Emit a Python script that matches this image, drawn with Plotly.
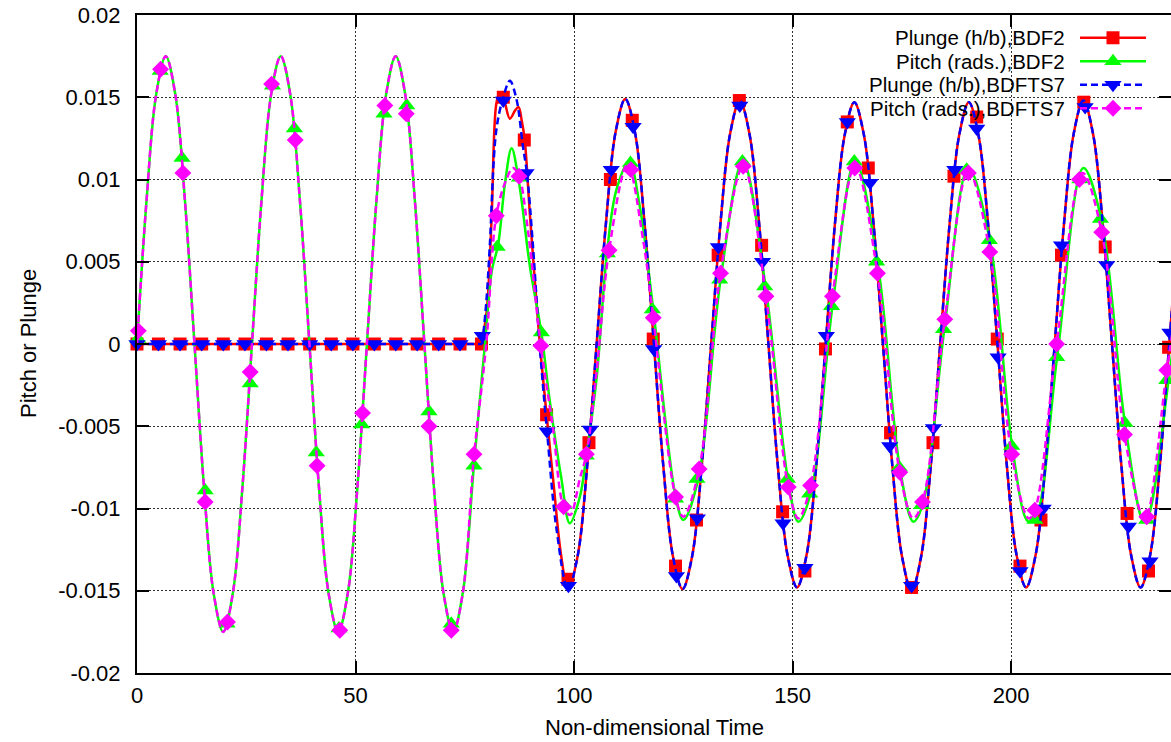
import plotly.graph_objects as go

# ---------------- data ----------------
# Plunge (h/b), BDF2 : line (flat at zero until the release, then oscillating)
t_plunge_bdf2 = [0, 78.8, 80.0, 81.1, 82.2, 83.0, 84.0, 85.3, 86.5, 87.3, 88.0, 88.7, 89.9, 92.1, 93.7,
                 95.3, 97.0, 98.6, 100.8, 103.0, 105.15, 107.3, 109.5, 111.7, 113.9, 116.1, 118.25,
                 120.4, 122.6, 124.8, 127.0, 129.2, 131.35, 133.5, 135.7, 137.9, 140.1, 142.3, 144.45,
                 146.6, 148.8, 151.0, 153.2, 155.4, 157.55, 159.7, 161.9, 164.1, 166.3, 168.5, 170.65,
                 172.8, 175.0, 177.2, 179.4, 181.6, 183.75, 185.9, 188.1, 190.3, 192.5, 194.7, 196.85,
                 199.0, 201.2, 203.4, 205.6, 207.8, 209.95, 212.1, 214.3, 216.5, 218.7, 220.9, 223.05,
                 225.2, 227.4, 229.6, 231.8, 234.0, 236.15, 238.3]
v_plunge_bdf2 = [0, 0, 0.0020, 0.0075, 0.0146, 0.0153, 0.0148, 0.0137, 0.0142, 0.0144, 0.0136, 0.0124,
                 0.0078, 0.0002, -0.0043, -0.0085, -0.0128, -0.0149, -0.0129, -0.0074, 0.0, 0.0074,
                 0.0129, 0.0149, 0.0129, 0.0074, 0.0, -0.0074, -0.0129, -0.0149, -0.0129, -0.0074, 0.0,
                 0.0074, 0.0128, 0.0148, 0.0128, 0.0074, 0.0, -0.0074, -0.0128, -0.0148, -0.0128,
                 -0.0074, 0.0, 0.0074, 0.0127, 0.0147, 0.0127, 0.0073, 0.0, -0.0074, -0.0129, -0.0150,
                 -0.0129, -0.0074, 0.0, 0.0073, 0.0127, 0.0147, 0.0127, 0.0073, 0.0, -0.0074, -0.0128,
                 -0.0148, -0.0128, -0.0074, 0.0, 0.0074, 0.0128, 0.0148, 0.0128, 0.0074, 0.0, -0.0074,
                 -0.0128, -0.0148, -0.0128, -0.0074, 0.0, 0.0074]

# Plunge (h/b), BDFTS7 : line
t_plunge_ts7 = [0, 79.0, 79.9, 80.7, 82.2, 83.8, 85.3, 86.8, 88.3, 89.2, 90.6, 92.1, 93.8, 96.0, 98.6,
                100.8, 103.0, 105.15, 107.3, 109.5, 111.7, 113.9, 116.1, 118.25, 120.4, 122.6, 124.8,
                127.0, 129.2, 131.35, 133.5, 135.7, 137.9, 140.1, 142.3, 144.45, 146.6, 148.8, 151.0,
                153.2, 155.4, 157.55, 159.7, 161.9, 164.1, 166.3, 168.5, 170.65, 172.8, 175.0, 177.2,
                179.4, 181.6, 183.75, 185.9, 188.1, 190.3, 192.5, 194.7, 196.85, 199.0, 201.2, 203.4,
                205.6, 207.8, 209.95, 212.1, 214.3, 216.5, 218.7, 220.9, 223.05, 225.2, 227.4, 229.6,
                231.8, 234.0, 236.15, 238.3]
v_plunge_ts7 = [0, 0, 0.0025, 0.0059, 0.0130, 0.0150, 0.0160, 0.0149, 0.0120, 0.0104, 0.0059, 0.0,
                -0.0053, -0.0113, -0.0149, -0.0129, -0.0074, 0.0, 0.0074, 0.0129, 0.0149, 0.0129,
                0.0074, 0.0, -0.0074, -0.0129, -0.0149, -0.0129, -0.0074, 0.0, 0.0074, 0.0128, 0.0148,
                0.0128, 0.0074, 0.0, -0.0074, -0.0128, -0.0148, -0.0128, -0.0074, 0.0, 0.0074, 0.0127,
                0.0147, 0.0127, 0.0073, 0.0, -0.0074, -0.0129, -0.0150, -0.0129, -0.0074, 0.0, 0.0073,
                0.0127, 0.0147, 0.0127, 0.0073, 0.0, -0.0074, -0.0128, -0.0148, -0.0128, -0.0074, 0.0,
                0.0074, 0.0128, 0.0148, 0.0128, 0.0074, 0.0, -0.0074, -0.0128, -0.0148, -0.0128,
                -0.0074, 0.0, 0.0074]

# Pitch (rads.), BDF2 : line
t_pitch_bdf2 = [0, 2.19, 4.38, 6.58, 8.77, 10.96, 13.15, 15.34, 17.53, 19.73, 21.92, 24.11, 26.3,
                28.49, 30.68, 32.88, 35.07, 37.26, 39.45, 41.64, 43.83, 46.03, 48.22, 50.41, 52.6,
                54.79, 56.98, 59.18, 61.37, 63.56, 65.75, 67.94, 70.13, 72.33, 74.52, 77.1, 79.6,
                81.2, 82.6, 84.2, 85.7, 87.4, 89.9, 92.5, 94.4, 97.1, 99.0, 101.3, 102.8, 105.1,
                107.5, 109.7, 112.6, 115.0, 118.1, 123.3, 125.0, 128.4, 133.5, 138.6, 143.8, 148.9,
                151.3, 154.1, 159.1, 164.3, 169.4, 174.5, 177.6, 179.7, 184.7, 190.2, 195.1, 200.2,
                203.9, 205.5, 210.5, 216.5, 220.6, 226.0, 230.3, 231.2, 236.0, 238.5]
v_pitch_bdf2 = [0, 0.00875, 0.01516, 0.0175, 0.01516, 0.00875, 0, -0.00875, -0.01516, -0.0175,
                -0.01516, -0.00875, 0, 0.00875, 0.01516, 0.0175, 0.01516, 0.00875, 0, -0.00875,
                -0.01516, -0.0175, -0.01516, -0.00875, 0, 0.00875, 0.01516, 0.0175, 0.01516, 0.00875,
                0, -0.00875, -0.01516, -0.0175, -0.01516, -0.0073, 0.0, 0.0045, 0.0060, 0.0098, 0.0119,
                0.0098, 0.0047, 0.0007, -0.0034, -0.0082, -0.0109, -0.0093, -0.0068, -0.0022, 0.0055,
                0.0094, 0.0111, 0.0084, 0.0021, -0.0094, -0.0107, -0.0082, 0.0039, 0.0111, 0.0035,
                -0.0082, -0.0108, -0.0091, 0.0023, 0.0111, 0.0050, -0.0075, -0.0108, -0.0098, 0.0009,
                0.0107, 0.0063, -0.0062, -0.0108, -0.0106, -0.0008, 0.0107, 0.0076, -0.0048, -0.0108,
                -0.0106, -0.0022, 0.0030]

# Pitch (rads.), BDFTS7 : line
t_pitch_ts7 = [0, 2.19, 4.38, 6.58, 8.77, 10.96, 13.15, 15.34, 17.53, 19.73, 21.92, 24.11, 26.3,
               28.49, 30.68, 32.88, 35.07, 37.26, 39.45, 41.64, 43.83, 46.03, 48.22, 50.41, 52.6,
               54.79, 56.98, 59.18, 61.37, 63.56, 65.75, 67.94, 70.13, 72.33, 74.52, 77.1, 79.9,
               82.2, 84.5, 86.0, 87.4, 89.1, 92.4, 95.2, 97.6, 99.1, 101.3, 102.8, 105.1, 108.0,
               112.2, 115.8, 118.1, 123.2, 125.0, 128.6, 133.5, 138.7, 143.9, 149.0, 151.3, 154.1,
               159.1, 164.3, 169.4, 174.5, 177.6, 179.7, 184.8, 190.2, 195.1, 200.1, 204.0, 205.4,
               210.4, 216.3, 220.7, 225.9, 230.3, 231.0, 235.6, 238.5]
v_pitch_ts7 = [0, 0.00875, 0.01516, 0.0175, 0.01516, 0.00875, 0, -0.00875, -0.01516, -0.0175,
               -0.01516, -0.00875, 0, 0.00875, 0.01516, 0.0175, 0.01516, 0.00875, 0, -0.00875,
               -0.01516, -0.0175, -0.01516, -0.00875, 0, 0.00875, 0.01516, 0.0175, 0.01516, 0.00875,
               0, -0.00875, -0.01516, -0.0175, -0.01516, -0.0068, 0.0, 0.0078, 0.0100, 0.0107,
               0.0102, 0.0076, -0.0001, -0.0052, -0.0099, -0.0104, -0.0082, -0.0067, -0.0018, 0.0057,
               0.0109, 0.0063, 0.0016, -0.0093, -0.0105, -0.0076, 0.0043, 0.0108, 0.0029, -0.0087,
               -0.0106, -0.0086, 0.0029, 0.0108, 0.0043, -0.0078, -0.0106, -0.0096, 0.0015, 0.0105,
               0.0056, -0.0067, -0.0106, -0.0101, 0.0, 0.0104, 0.0068, -0.0055, -0.0106, -0.0105,
               -0.0016, 0.0035]

# point symbols (every n-th sample)
tm_plunge_bdf2 = [0, 4.9, 9.85, 14.8, 19.75, 24.7, 29.6, 34.55, 39.5, 44.45, 49.4, 54.3, 59.2, 64.1,
                  69.0, 73.9, 78.8, 83.8, 88.6, 93.7, 98.6, 103.4, 108.3, 113.3, 118.1, 123.2, 128.0,
                  132.95, 137.8, 142.9, 147.7, 152.8, 157.5, 162.5, 167.3, 172.4, 177.2, 182.1, 186.9,
                  192.1, 196.8, 202.0, 206.8, 211.5, 216.6, 221.5, 226.5, 231.4, 236.0]
vm_plunge_bdf2 = [0] * 17 + [0.0150, 0.0124, -0.0043, -0.0143, -0.0060, 0.0100, 0.0136, 0.0003, -0.0135,
                             -0.0107, 0.0054, 0.0148, 0.0060, -0.0102, -0.0138, -0.0003, 0.0135,
                             0.0107, -0.0054, -0.0148, -0.0060, 0.0102, 0.0138, 0.0003, -0.0135,
                             -0.0107, 0.0054, 0.0147, 0.0059, -0.0103, -0.0138, -0.0002]

tm_plunge_ts7 = [0, 4.9, 9.85, 14.8, 19.75, 24.7, 29.6, 34.55, 39.5, 44.45, 49.4, 54.3, 59.2, 64.1,
                 69.0, 73.9, 79.0, 83.8, 89.0, 93.8, 98.7, 103.7, 108.5, 113.5, 118.2, 123.4, 128.2,
                 133.0, 137.9, 143.1, 147.8, 152.8, 157.7, 162.5, 167.7, 172.2, 177.2, 182.2, 187.1,
                 192.1, 197.0, 202.0, 207.3, 211.5, 216.9, 221.8, 226.8, 231.75, 236.3]
vm_plunge_ts7 = [0] * 16 + [0.0005, 0.0148, 0.0104, -0.0053, -0.0147, -0.0052, 0.0106, 0.0132, -0.0003,
                            -0.0141, -0.0106, 0.0059, 0.0145, 0.0050, -0.0109, -0.0136, 0.0005,
                            0.0135, 0.0098, -0.0062, -0.0147, -0.0051, 0.0106, 0.0131, -0.0008,
                            -0.0138, -0.0100, 0.0060, 0.0144, 0.0048, -0.0111, -0.0132, 0.0007]

tm_pitch_bdf2 = [0.2, 5.3, 10.3, 15.6, 20.6, 25.9, 31.0, 36.0, 41.0, 46.2, 51.4, 56.5, 61.7, 66.8,
                 71.9, 77.1, 82.4, 87.5, 92.5, 97.7, 102.8, 107.6, 112.9, 117.9, 123.2, 128.1, 133.3,
                 138.5, 143.6, 148.8, 153.9, 158.9, 164.1, 169.2, 174.4, 179.5, 184.5, 189.8, 195.0,
                 200.1, 205.4, 210.4, 215.7, 220.4, 226.0, 231.0, 235.6]
vm_pitch_bdf2 = [0.0003, 0.0166, 0.0113, -0.0089, -0.0170, -0.0024, 0.0157, 0.0131, -0.0066, -0.0173,
                 -0.0049, 0.0140, 0.0145, -0.0041, -0.0170, -0.0074, 0.0059, 0.0101, 0.0007, -0.0098,
                 -0.0068, 0.0055, 0.0110, 0.0021, -0.0094, -0.0082, 0.0039, 0.0111, 0.0035, -0.0082,
                 -0.0091, 0.0023, 0.0111, 0.0050, -0.0075, -0.0098, 0.0009, 0.0106, 0.0063, -0.0062,
                 -0.0107, -0.0008, 0.0100, 0.0076, -0.0048, -0.0107, -0.0022]

tm_pitch_ts7 = [0.3, 5.4, 10.5, 15.6, 20.7, 25.9, 30.8, 36.2, 41.2, 46.4, 51.6, 56.7, 61.6, 66.8,
                71.9, 77.1, 82.2, 87.4, 92.4, 97.6, 102.8, 108.0, 113.0, 118.1, 123.2, 128.6, 133.5,
                138.7, 143.9, 149.0, 154.1, 159.1, 164.2, 169.4, 174.5, 179.7, 184.8, 190.2, 195.1,
                200.1, 205.4, 210.4, 215.6, 220.7, 225.9, 231.0, 235.6]
vm_pitch_ts7 = [0.0008, 0.0167, 0.0104, -0.0096, -0.0169, -0.0017, 0.0158, 0.0124, -0.0074, -0.0174,
                -0.0042, 0.0145, 0.0140, -0.0050, -0.0174, -0.0067, 0.0078, 0.0102, -0.0001, -0.0099,
                -0.0067, 0.0057, 0.0106, 0.0016, -0.0093, -0.0076, 0.0043, 0.0108, 0.0029, -0.0087,
                -0.0086, 0.0029, 0.0107, 0.0043, -0.0078, -0.0096, 0.0015, 0.0104, 0.0056, -0.0067,
                -0.0101, 0.0000, 0.0100, 0.0068, -0.0055, -0.0105, -0.0016]

series_names = ["Plunge (h/b),BDF2", "Pitch (rads.),BDF2", "Plunge (h/b),BDFTS7", "Pitch (rads.),BDFTS7"]
x_ticks = [0, 50, 100, 150, 200]
y_ticks = [0.02, 0.015, 0.01, 0.005, 0, -0.005, -0.01, -0.015, -0.02]
y_tick_text = ["0.02", "0.015", "0.01", "0.005", "0", "-0.005", "-0.01", "-0.015", "-0.02"]

# ---------------- styles ----------------
FONT = "Liberation Sans, Arial, Helvetica, sans-serif"
FS = 22
KEY_FS = 20.5
styles = [
    dict(color="#ff0000", dash="solid", symbol="square", size=13),
    dict(color="#00ff00", dash="solid", symbol="triangle-up", size=15),
    dict(color="#0000ff", dash="7px,4px", symbol="triangle-down", size=15),
    dict(color="#ff00ff", dash="7px,4px", symbol="diamond", size=13),
]
# number of leading samples that lie on the flat (pre-release) straight part of each line
flat_counts = [2, 0, 2, 0]
lines = [(t_plunge_bdf2, v_plunge_bdf2), (t_pitch_bdf2, v_pitch_bdf2),
         (t_plunge_ts7, v_plunge_ts7), (t_pitch_ts7, v_pitch_ts7)]
marks = [(tm_plunge_bdf2, vm_plunge_bdf2), (tm_pitch_bdf2, vm_pitch_bdf2),
         (tm_plunge_ts7, vm_plunge_ts7), (tm_pitch_ts7, vm_pitch_ts7)]

fig = go.Figure()
for (lt, lv), (mt, mv), st, nm, nf in zip(lines, marks, styles, series_names, flat_counts):
    start = 0
    if nf:
        fig.add_trace(go.Scatter(x=lt[:nf], y=lv[:nf], mode="lines", showlegend=False,
                                 line=dict(color=st["color"], width=2.5, dash=st["dash"]),
                                 hoverinfo="skip"))
        start = nf - 1
    fig.add_trace(go.Scatter(x=lt[start:], y=lv[start:], mode="lines", name=nm, showlegend=False,
                             line=dict(color=st["color"], width=2.5, dash=st["dash"], shape="spline",
                                       smoothing=1.0),
                             hoverinfo="skip"))
    fig.add_trace(go.Scatter(x=mt, y=mv, mode="markers", name=nm, showlegend=False, cliponaxis=False,
                             marker=dict(color=st["color"], symbol=st["symbol"], size=st["size"],
                                         line=dict(width=0))))

# custom gnuplot-like key (text left, sample right) on an overlay [0,1] axis pair
key_rows = [0.9654, 0.9297, 0.8940, 0.8583]
key_x0, key_x1, key_xm, key_text_x = 0.9120, 0.9758, 0.9439, 0.8985
for row, st, nm in zip(key_rows, styles, series_names):
    fig.add_trace(go.Scatter(x=[key_x0, key_x1], y=[row, row], mode="lines", xaxis="x3", yaxis="y3",
                             showlegend=False, hoverinfo="skip",
                             line=dict(color=st["color"], width=2.5, dash=st["dash"])))
    fig.add_trace(go.Scatter(x=[key_xm], y=[row], mode="markers", xaxis="x3", yaxis="y3",
                             showlegend=False, hoverinfo="skip",
                             marker=dict(color=st["color"], symbol=st["symbol"], size=st["size"])))
    fig.add_annotation(x=key_text_x, y=row, xref="paper", yref="paper", text=nm, showarrow=False,
                       xanchor="right", yanchor="middle", borderpad=0,
                       font=dict(family=FONT, size=KEY_FS, color="black"))

# invisible trace to realise the right-hand tick axis
fig.add_trace(go.Scatter(x=[None], y=[None], yaxis="y2", showlegend=False, hoverinfo="skip"))

axis_common = dict(showline=True, linecolor="black", linewidth=2, ticks="inside", ticklen=12,
                   tickwidth=2, tickcolor="black", showgrid=True, gridcolor="#303030", gridwidth=1,
                   griddash="2px,2px", zeroline=False,
                   tickfont=dict(family=FONT, size=FS, color="black"))

fig.update_layout(
    width=1171, height=742,
    margin=dict(l=137, r=0, t=15, b=69),
    paper_bgcolor="white", plot_bgcolor="white",
    showlegend=False,
    xaxis=dict(range=[0, 236.55], tickvals=x_ticks, mirror="ticks", ticklabelstandoff=2, **axis_common),
    yaxis=dict(range=[-0.02, 0.02], tickvals=y_ticks, ticktext=y_tick_text, mirror=False,
               ticklabelstandoff=10, **axis_common),
    yaxis2=dict(range=[-0.02, 0.02], overlaying="y", side="right", anchor="x", tickvals=y_ticks,
                ticks="inside", ticklen=12, tickwidth=2, tickcolor="black", showticklabels=False,
                showgrid=False, showline=False, zeroline=False),
    xaxis3=dict(range=[0, 1], overlaying="x", visible=False),
    yaxis3=dict(range=[0, 1], overlaying="y", visible=False),
    shapes=[dict(type="rect", xref="paper", yref="paper", x0=0.6306, x1=1.0, y0=0.845, y1=1.0,
                 fillcolor="white", line=dict(width=0), layer="between")],
)
fig.add_annotation(x=0.5, y=-0.0821, xref="paper", yref="paper", text="Non-dimensional Time",
                   showarrow=False, xanchor="center", yanchor="middle",
                   font=dict(family=FONT, size=FS, color="black"))
fig.add_annotation(x=-0.1054, y=0.5, xref="paper", yref="paper", text="Pitch or Plunge",
                   showarrow=False, xanchor="center", yanchor="middle", textangle=-90,
                   font=dict(family=FONT, size=FS, color="black"))

fig.write_html("out.html")
